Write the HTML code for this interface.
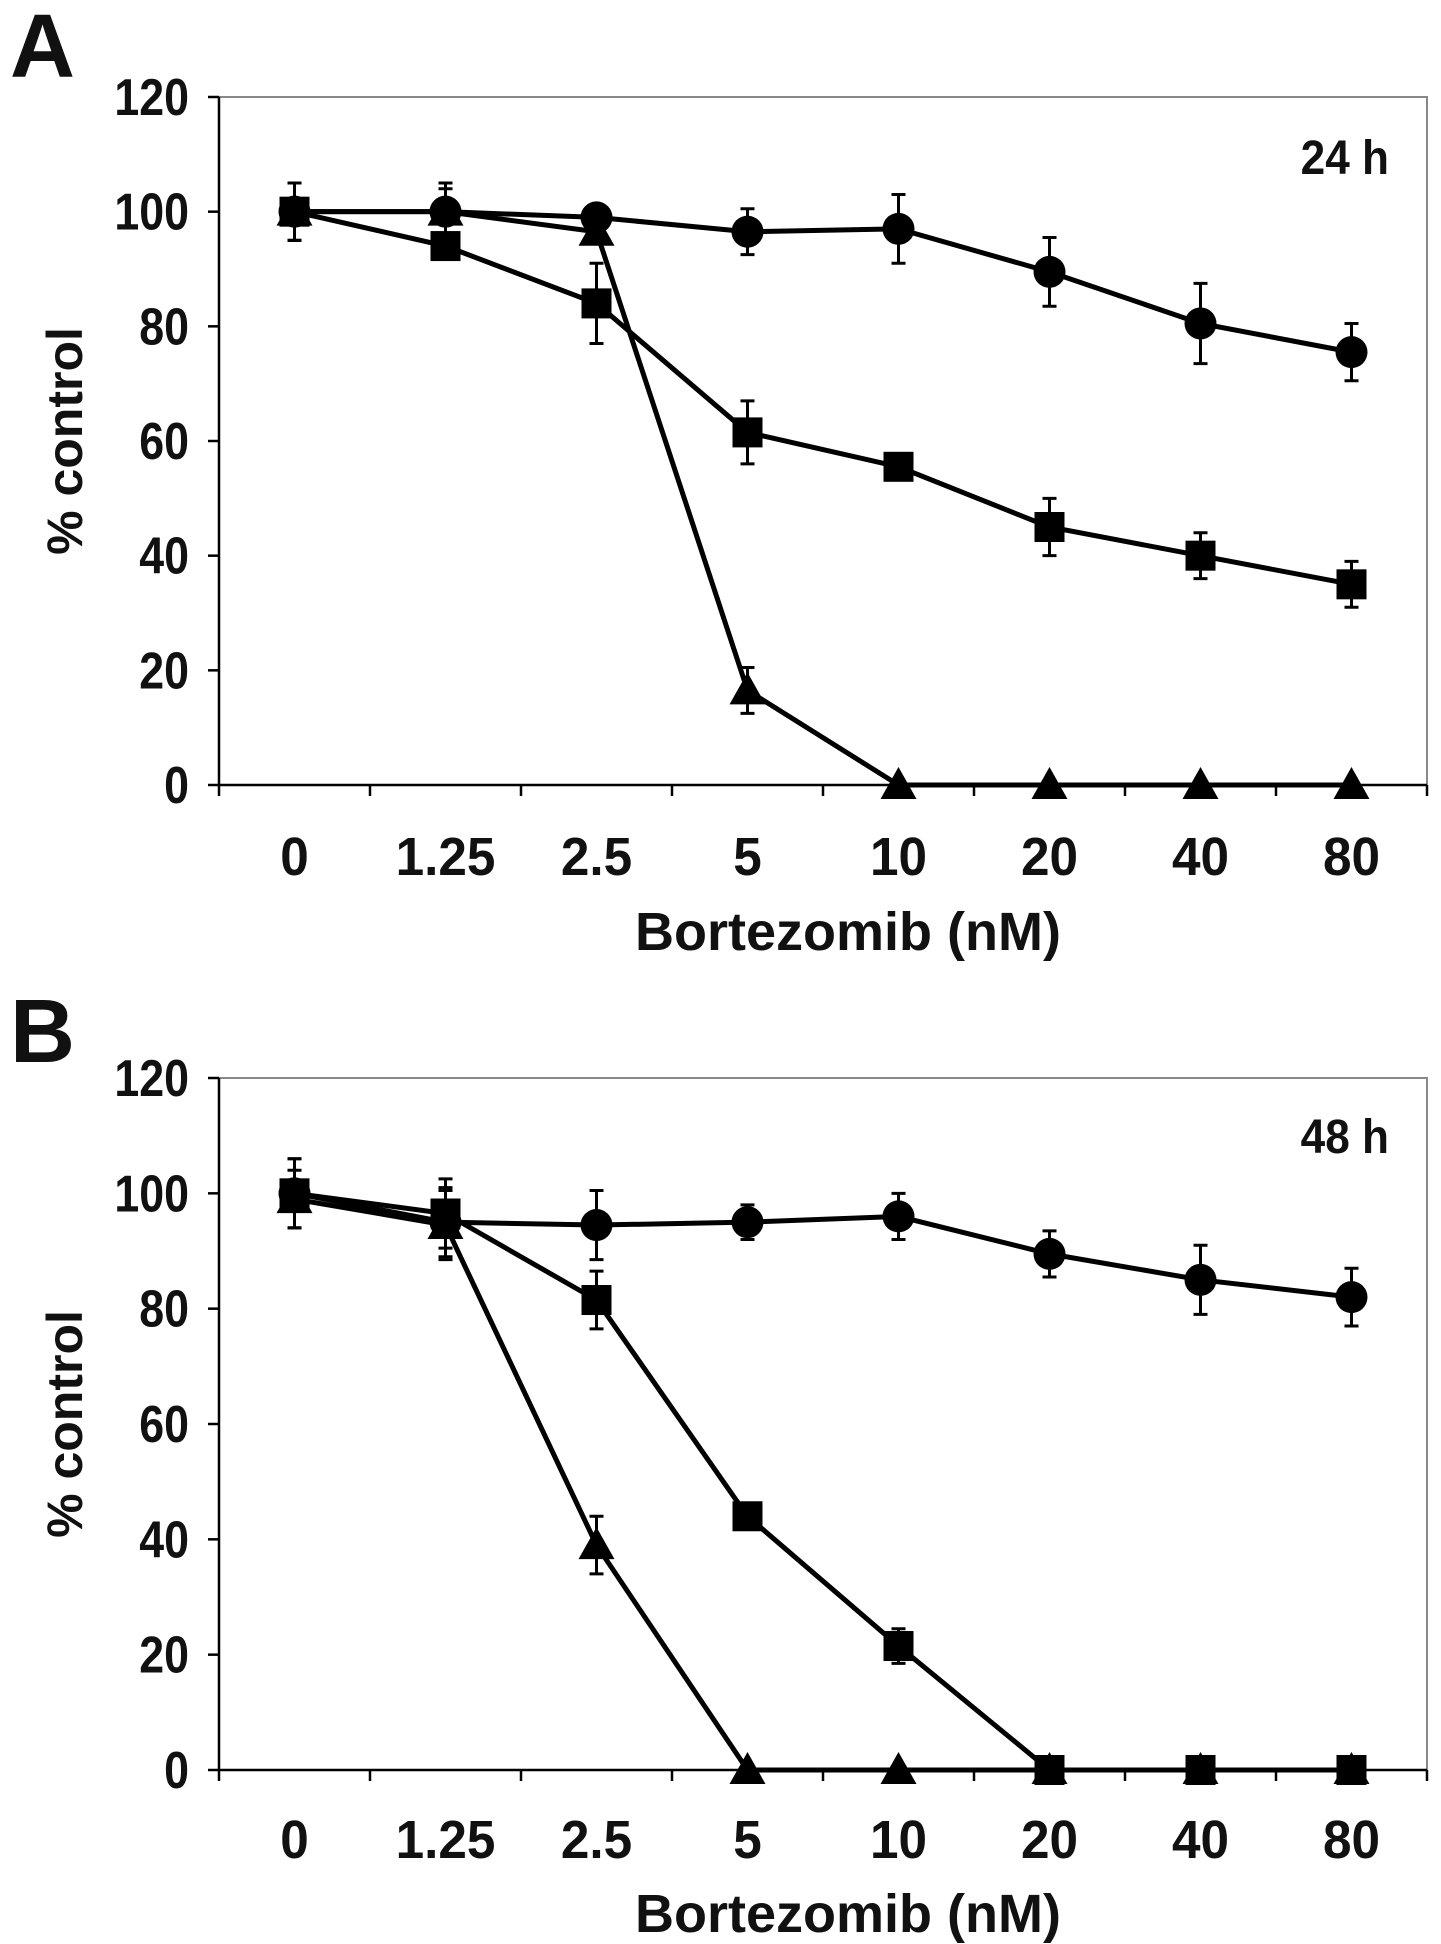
<!DOCTYPE html>
<html><head><meta charset="utf-8"><style>
html,body{margin:0;padding:0;background:#fff;}
svg{display:block;}
text{font-family:"Liberation Sans",Arial,sans-serif;font-weight:bold;fill:#111;}
</style></head><body>
<svg id="fig" width="1441" height="1944" viewBox="0 0 1441 1944" xmlns="http://www.w3.org/2000/svg"></svg>
<script>
const categories = ["0","1.25","2.5","5","10","20","40","80"];
const yTicks = [0,20,40,60,80,100,120];
const aCircle = [100,100,99,96.5,97,89.5,80.5,75.5];
const aCircleErr = [5,5,1,4,6,6,7,5];
const aSquare = [100,94,84,61.5,55.5,45,40,35];
const aSquareErr = [5,1,7,5.5,1,5,4,4];
const aTriangle = [100,100,96.5,16.5,0,0,0,0];
const aTriangleErr = [5,4,1,4,0,0,0,0];
const bCircle = [100,95,94.5,95,96,89.5,85,82];
const bCircleErr = [6,6,6,3,4,4,6,5];
const bSquare = [100,96.5,81.5,44,21.5,0,0,0];
const bSquareErr = [6,6,5,1,3,0,0,0];
const bTriangle = [99,94.5,39,0,0,0,0,0];
const bTriangleErr = [5,6,5,0,0,0,0,0];

const NS="http://www.w3.org/2000/svg";
const svg=document.getElementById('fig');
function mk(tag,attrs,parent){const e=document.createElementNS(NS,tag);for(const k in attrs)e.setAttribute(k,attrs[k]);(parent||svg).appendChild(e);return e;}

function panel(o){
  const g=mk('g',{});
  
  
  const L=219,R=1427,T=o.top,B=o.y0;
  const step=(R-L)/categories.length;
  const xs=i=>L+step*(i+0.5);
  const ys=v=>B-(v/120)*(B-T);
  const fr=mk('path',{d:`M${L} ${T} H${R} V${B}`,stroke:'#888',fill:'none','stroke-width':2},g);
  
  
  const ya=mk('line',{x1:L,y1:T,x2:L,y2:B,stroke:'#000','stroke-width':2.5},g);
  
  
  const xa=mk('line',{x1:L,y1:B,x2:R,y2:B,stroke:'#000','stroke-width':2.5},g);
  
  
  yTicks.forEach(v=>{
    mk('line',{x1:L-11,y1:ys(v),x2:L,y2:ys(v),stroke:'#000','stroke-width':2.5},g);
    const t=mk('text',{x:0,y:0,'text-anchor':'end','font-size':52,transform:`translate(${L-30} ${ys(v)+18}) scale(0.86 1)`},g);
    t.textContent=v;
    
    
  });
  for(let i=0;i<=categories.length;i++){
    mk('line',{x1:L+step*i,y1:B,x2:L+step*i,y2:B+11,stroke:'#000','stroke-width':2.5},g);
  }
  categories.forEach((c,i)=>{
    const t=mk('text',{x:0,y:0,'text-anchor':'middle','font-size':54,transform:`translate(${xs(i)} ${o.tickY}) scale(0.95 1)`},g);
    t.textContent=c;
    
    
  });
  const xt=mk('text',{x:0,y:0,'text-anchor':'middle','font-size':54,transform:`translate(848 ${o.titleY})`},g);
  xt.textContent='Bortezomib (nM)';
  
  
  const cy=(T+B)/2;
  const yt=mk('text',{x:0,y:0,'text-anchor':'middle','font-size':50,transform:`translate(82 ${cy}) rotate(-90)`},g);
  yt.textContent='% control';
  
  
  const tl=mk('text',{x:0,y:0,'text-anchor':'end','font-size':48,transform:`translate(1389 ${o.timeY}) scale(0.92 1)`},g);
  tl.textContent=o.time;
  
  
  const pl=mk('text',{x:10,y:o.letterY,'font-size':90},g);
  pl.textContent=o.id;
  
  

  o.series.forEach(s=>{
    const sg=mk('g',{},g);
    
    
    const pts=s.vals.map((v,i)=>xs(i)+','+ys(v)).join(' ');
    const pln=mk('polyline',{points:pts,fill:'none',stroke:'#000','stroke-width':5},sg);
    
    
    s.vals.forEach((v,i)=>{
      const e=s.err[i],x=xs(i);
      if(e>0){
        const eb=mk('path',{d:`M${x} ${ys(v-e)} V${ys(v+e)} M${x-7} ${ys(v-e)} H${x+7} M${x-7} ${ys(v+e)} H${x+7}`,stroke:'#000','stroke-width':3,fill:'none'},sg);
        
        
      }
      let m;
      const y=ys(v);
      if(s.shape==='circle') m=mk('circle',{cx:x,cy:y,r:16,fill:'#000'},sg);
      else if(s.shape==='square') m=mk('rect',{x:x-15,y:y-15,width:30,height:30,fill:'#000'},sg);
      else m=mk('polygon',{points:`${x},${y-18} ${x+18},${y+14} ${x-18},${y+14}`,fill:'#000'},sg);
      
      
    });
  });
}
panel({id:'A',top:97,y0:785,tickY:875,titleY:950,timeY:174,letterY:77,time:'24 h',
  series:[{shape:'triangle',vals:aTriangle,err:aTriangleErr},{shape:'square',vals:aSquare,err:aSquareErr},{shape:'circle',vals:aCircle,err:aCircleErr}]});
panel({id:'B',top:1078,y0:1770,tickY:1858,titleY:1932,timeY:1153,letterY:1062,time:'48 h',
  series:[{shape:'triangle',vals:bTriangle,err:bTriangleErr},{shape:'square',vals:bSquare,err:bSquareErr},{shape:'circle',vals:bCircle,err:bCircleErr}]});
</script>
</body></html>
